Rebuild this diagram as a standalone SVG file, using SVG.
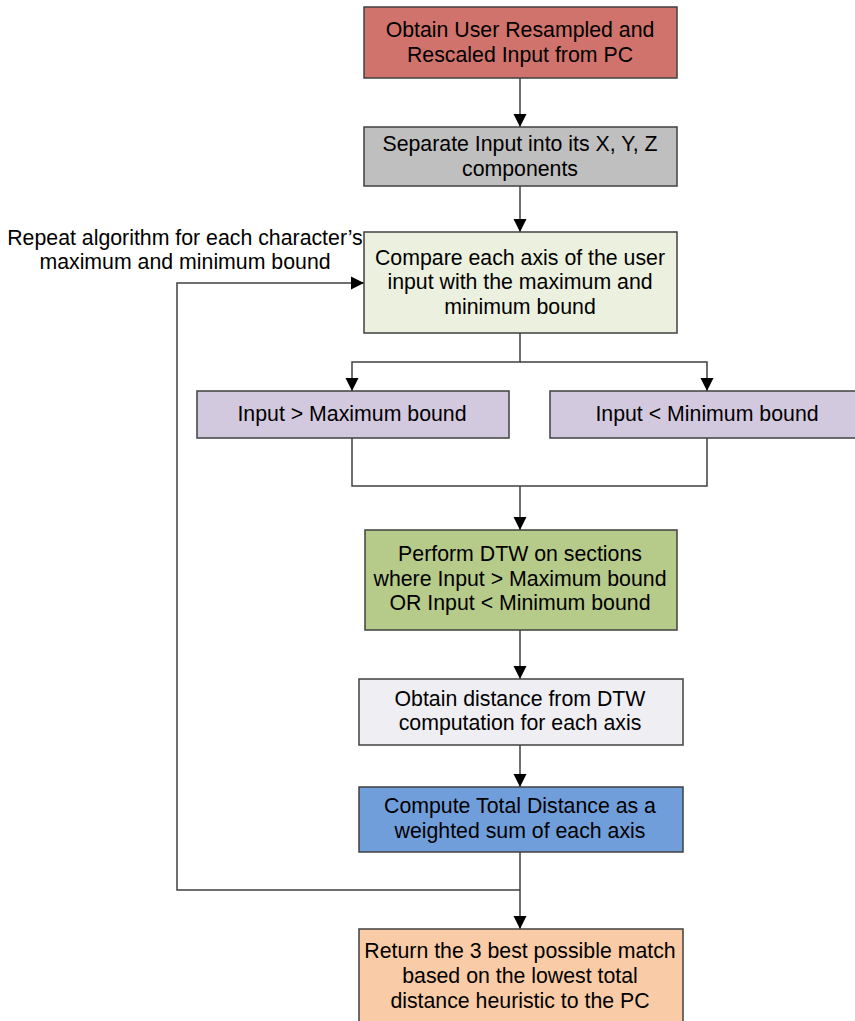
<svg xmlns="http://www.w3.org/2000/svg" width="855" height="1021" viewBox="0 0 855 1021">
<style>
.box{stroke:#404040;stroke-width:1.5}
.t{font-family:"Liberation Sans",Arial,sans-serif;font-size:21.3px;fill:#000;text-anchor:middle}
.c{fill:none;stroke:#404040;stroke-width:1.5}
</style>
<defs>
<marker id="ah" markerWidth="13" markerHeight="14" refX="13" refY="7" orient="auto" markerUnits="userSpaceOnUse">
<path d="M0,0.5 L13,7 L0,13.5 Z" fill="#000"/>
</marker>
</defs>
<rect width="855" height="1021" fill="#fff"/>
<g id="connectors">
<path class="c" d="M520,78 V127" marker-end="url(#ah)"/>
<path class="c" d="M520,186 V232" marker-end="url(#ah)"/>
<path class="c" d="M520,333 V362 H352 V391" marker-end="url(#ah)"/>
<path class="c" d="M520,362 H707 V391" marker-end="url(#ah)"/>
<path class="c" d="M352,438 V486 H707 V438"/>
<path class="c" d="M520,486 V530" marker-end="url(#ah)"/>
<path class="c" d="M520,630 V679" marker-end="url(#ah)"/>
<path class="c" d="M520,745 V787" marker-end="url(#ah)"/>
<path class="c" d="M520,852 V929" marker-end="url(#ah)"/>
<path class="c" d="M520,890 H177 V283 H364" marker-end="url(#ah)"/>
</g>
<g id="n1"><rect class="box" x="364" y="7" width="313" height="71" fill="#d0736d"/>
<text class="t" x="520" y="37">Obtain User Resampled and</text><text class="t" x="520" y="62">Rescaled Input from PC</text></g>
<g id="n2"><rect class="box" x="364" y="127" width="313" height="59" fill="#bfbfbf"/>
<text class="t" x="520" y="151">Separate Input into its X, Y, Z</text><text class="t" x="520" y="176">components</text></g>
<g id="n3"><rect class="box" x="364" y="232" width="313" height="101" fill="#ebf1de"/>
<text class="t" x="520" y="265">Compare each axis of the user</text><text class="t" x="520" y="289">input with the maximum and</text><text class="t" x="520" y="314">minimum bound</text></g>
<g id="label"><text class="t" x="185" y="245">Repeat algorithm for each character’s</text><text class="t" x="185" y="269">maximum and minimum bound</text></g>
<g id="n4"><rect class="box" x="197" y="391" width="312" height="47" fill="#d3c9df"/>
<text class="t" x="352" y="421">Input &gt; Maximum bound</text></g>
<g id="n5"><rect class="box" x="550" y="391" width="310" height="47" fill="#d3c9df"/>
<text class="t" x="707" y="421">Input &lt; Minimum bound</text></g>
<g id="n6"><rect class="box" x="365" y="530" width="312" height="100" fill="#b6ca89"/>
<text class="t" x="520" y="561">Perform DTW on sections</text><text class="t" x="520" y="586">where Input &gt; Maximum bound</text><text class="t" x="520" y="610">OR Input &lt; Minimum bound</text></g>
<g id="n7"><rect class="box" x="359" y="679" width="324" height="66" fill="#efeef3"/>
<text class="t" x="520" y="706">Obtain distance from DTW</text><text class="t" x="520" y="730">computation for each axis</text></g>
<g id="n8"><rect class="box" x="359" y="787" width="324" height="65" fill="#6f9edb"/>
<text class="t" x="520" y="813">Compute Total Distance as a</text><text class="t" x="520" y="838">weighted sum of each axis</text></g>
<g id="n9"><rect class="box" x="359" y="929" width="324" height="100" fill="#f9cba6"/>
<text class="t" x="520" y="958">Return the 3 best possible match</text><text class="t" x="520" y="983">based on the lowest total</text><text class="t" x="520" y="1008">distance heuristic to the PC</text></g>
</svg>
